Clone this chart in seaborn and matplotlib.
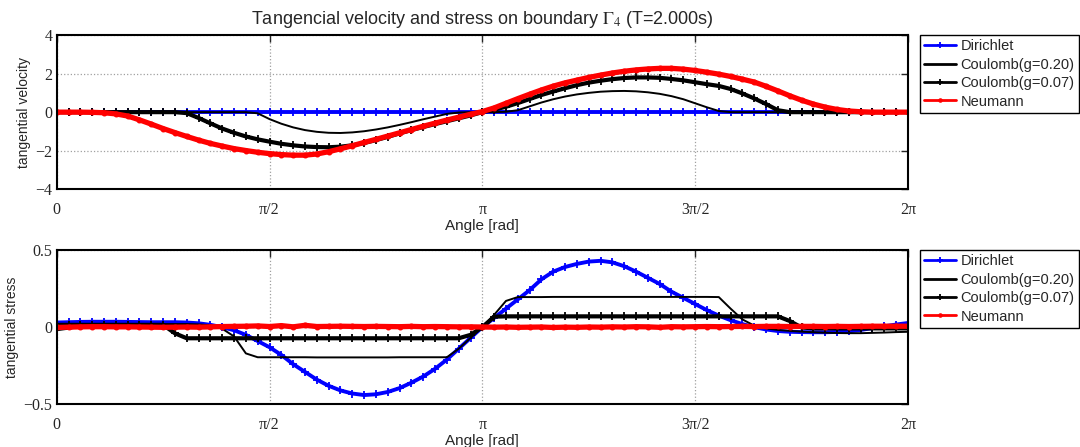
import numpy as np
import pandas as pd
import matplotlib
matplotlib.use('Agg')
import matplotlib.pyplot as plt
import seaborn as sns

# angle grid in degrees (0..360 every 5 deg)
angle_deg = np.arange(0, 361, 5)

# tangential velocity
vel_dirichlet = [
    0, 0, 0, 0, 0, 0, 0, 0, 0, 0, 0, 0, 0, 0, 0, 0, 0, 0, 0, 0, 0, 0, 0, 0, 0,
    0, 0, 0, 0, 0, 0, 0, 0, 0, 0, 0, 0, 0, 0, 0, 0, 0, 0, 0, 0, 0, 0, 0, 0, 0,
    0, 0, 0, 0, 0, 0, 0, 0, 0, 0, 0, 0, 0, 0, 0, 0, 0, 0, 0, 0, 0, 0, 0]
vel_coulomb_020 = [
    0, 0, 0, 0, 0, 0, 0, 0, 0, 0, 0, 0, 0, 0, 0, 0, 0,
    -0.06, -0.36, -0.6, -0.79, -0.93, -1.02, -1.07, -1.08, -1.05, -0.99,
    -0.9, -0.79, -0.66, -0.52, -0.37, -0.23, -0.09, -0.02, 0.0, 0.0,
    0.0, 0.02, 0.1, 0.3, 0.5, 0.67, 0.81, 0.92, 1.0, 1.06,
    1.09, 1.1, 1.08, 1.03, 0.95, 0.83, 0.67, 0.46, 0.25, 0.06,
    0, 0, 0, 0, 0, 0, 0, 0, 0, 0, 0, 0, 0, 0, 0, 0]
vel_coulomb_007 = [
    0, 0, 0, 0, 0, 0, 0, 0, 0, 0, 0,
    -0.05, -0.3, -0.58, -0.85, -1.07, -1.26, -1.41, -1.53, -1.64, -1.72,
    -1.78, -1.81, -1.82, -1.79, -1.72, -1.6, -1.45, -1.28, -1.1, -0.93,
    -0.77, -0.62, -0.47, -0.32, -0.17, 0.0, 0.13, 0.28, 0.47, 0.68,
    0.89, 1.07, 1.24, 1.4, 1.53, 1.63, 1.71, 1.77, 1.8, 1.8,
    1.78, 1.72, 1.65, 1.55, 1.45, 1.36, 1.2, 0.97, 0.71, 0.42, 0.1,
    0, 0, 0, 0, 0, 0, 0, 0, 0, 0, 0]
vel_neumann = [
    0, 0, 0, -0.01, -0.03, -0.09, -0.2, -0.4, -0.62, -0.85,
    -1.06, -1.26, -1.45, -1.62, -1.76, -1.89, -1.99, -2.08, -2.15, -2.2,
    -2.23, -2.23, -2.17, -2.05, -1.9, -1.74, -1.57, -1.41, -1.24, -1.07,
    -0.9, -0.73, -0.57, -0.41, -0.26, -0.11, 0.03, 0.22, 0.46, 0.7,
    0.93, 1.15, 1.35, 1.52, 1.66, 1.8, 1.92, 2.03, 2.12, 2.19,
    2.24, 2.27, 2.27, 2.23, 2.16, 2.07, 1.97, 1.85, 1.71, 1.56,
    1.34, 1.1, 0.85, 0.62, 0.42, 0.26, 0.14, 0.06, 0.02, 0,
    0, 0, 0]

# tangential stress
str_dirichlet = [
    0.03, 0.032, 0.034, 0.035, 0.035, 0.035, 0.034, 0.033, 0.032, 0.032,
    0.032, 0.03, 0.025, 0.015, 0.0, -0.02, -0.05, -0.09, -0.13, -0.18,
    -0.24, -0.29, -0.34, -0.38, -0.41, -0.43, -0.44, -0.435, -0.42, -0.395,
    -0.36, -0.32, -0.27, -0.21, -0.14, -0.07, 0.0, 0.06, 0.12, 0.18,
    0.24, 0.31, 0.36, 0.39, 0.41, 0.425, 0.43, 0.42, 0.395, 0.36,
    0.32, 0.28, 0.23, 0.19, 0.15, 0.11, 0.075, 0.045, 0.02, 0.0,
    -0.015, -0.025, -0.03, -0.032, -0.033, -0.033, -0.031, -0.027, -0.018, -0.006,
    0.006, 0.017, 0.027]
str_coulomb_020 = [
    -0.02, -0.01, 0.0, 0.008, 0.013, 0.016, 0.018, 0.02, 0.02, 0.02,
    0.02, 0.02, 0.018, 0.012, -0.01, -0.06, -0.17, -0.195, -0.195, -0.195,
    -0.195, -0.195, -0.196, -0.196, -0.196, -0.196, -0.196, -0.196, -0.196, -0.195,
    -0.195, -0.195, -0.195, -0.195, -0.14, -0.07, 0.0, 0.08, 0.17, 0.195,
    0.195, 0.195, 0.196, 0.196, 0.196, 0.196, 0.196, 0.196, 0.196, 0.196,
    0.196, 0.196, 0.196, 0.196, 0.196, 0.196, 0.195, 0.12, 0.05, 0.01,
    -0.008, -0.018, -0.024, -0.029, -0.033, -0.036, -0.038, -0.039, -0.039, -0.037,
    -0.035, -0.032, -0.03]
str_coulomb_007 = [
    0.015, 0.015, 0.015, 0.015, 0.015, 0.015, 0.015, 0.015, 0.015, 0.015,
    -0.04, -0.072, -0.072, -0.072, -0.072, -0.072, -0.072, -0.072, -0.072, -0.072,
    -0.072, -0.072, -0.072, -0.072, -0.072, -0.072, -0.072, -0.072, -0.072, -0.072,
    -0.072, -0.072, -0.072, -0.072, -0.072, -0.05, 0.0, 0.068, 0.07, 0.07,
    0.07, 0.07, 0.07, 0.07, 0.07, 0.07, 0.07, 0.07, 0.07, 0.07,
    0.07, 0.07, 0.07, 0.07, 0.07, 0.07, 0.07, 0.07, 0.07, 0.07,
    0.07, 0.07, 0.04, -0.002, -0.008, -0.008, -0.008, -0.008, -0.008, -0.008,
    -0.008, -0.008, -0.008]
str_neumann = [
    -0.002, 0.0, 0.002, 0.003, 0.003, 0.002, 0.002, 0.001, 0.0, -0.001,
    0.0, 0.001, 0.0, 0.002, 0.004, 0.005, 0.006, 0.008, 0.004, 0.01,
    0.002, 0.012, 0.004, 0.005, 0.006, 0.005, 0.004, 0.005, 0.004, 0.003,
    0.005, 0.003, 0.004, 0.003, 0.002, 0.002, 0.001, 0.0, 0.001, -0.001,
    0.0, 0.001, -0.002, 0.0, -0.001, 0.001, 0.0, 0.002, 0.001, 0.003,
    0.002, -0.001, 0.003, 0.002, 0.003, 0.004, 0.003, 0.004, 0.005, 0.004,
    0.005, 0.005, 0.004, 0.005, 0.005, 0.004, 0.005, 0.004, 0.005, 0.006,
    0.006, 0.006, 0.006]

labels = ['Dirichlet', 'Coulomb(g=0.20)', 'Coulomb(g=0.07)', 'Neumann']
colors = ['#0000ff', 'black', 'black', '#ff0000']
markers = ['+', '', '+', '.']
widths = [2.8, 1.4, 3.0, 3.8]

x_ticks = [0, np.pi / 2, np.pi, 3 * np.pi / 2, 2 * np.pi]
x_tick_labels = ['0', 'π/2', 'π', '3π/2', '2π']

sns.set_style('white')
plt.rcParams['font.family'] = ['Liberation Sans', 'DejaVu Sans']
plt.rcParams['mathtext.fontset'] = 'stix'

angle = np.deg2rad(angle_deg)
vel_df = pd.DataFrame(dict(zip(labels, [vel_dirichlet, vel_coulomb_020, vel_coulomb_007, vel_neumann])))
str_df = pd.DataFrame(dict(zip(labels, [str_dirichlet, str_coulomb_020, str_coulomb_007, str_neumann])))
vel_df['angle'] = angle
str_df['angle'] = angle

fig = plt.figure(figsize=(10.8, 4.47), dpi=100)
ax1 = fig.add_axes([0.0525, 0.5765, 0.7882, 0.3452])
ax2 = fig.add_axes([0.0525, 0.0955, 0.7882, 0.3452])


def draw(ax, df, ylabel, ylim, yticks, ytick_labels):
    for lab, c, m, w in zip(labels, colors, markers, widths):
        sns.lineplot(data=df, x='angle', y=lab, ax=ax, color=c, lw=w,
                     marker=m if m else None, markersize=6, markeredgewidth=1.3,
                     markeredgecolor=c, label=lab)
    ax.set_xlim(0, 2 * np.pi)
    ax.set_ylim(*ylim)
    ax.set_xticks(x_ticks)
    ax.set_xticklabels(x_tick_labels, family='Liberation Serif', fontsize=11.5)
    ax.set_yticks(yticks)
    ax.set_yticklabels(ytick_labels, family='Liberation Serif', fontsize=11.5)
    ax.grid(True, linestyle=':', color='#a0a0a0', linewidth=0.9)
    ax.tick_params(direction='in', length=5, width=1, top=True, right=True)
    ax.tick_params(axis='x', pad=9)
    ax.tick_params(axis='y', pad=3)
    for s in ax.spines.values():
        s.set_linewidth(1.5)
        s.set_color('black')
    ax.set_xlabel('Angle [rad]', fontsize=11)
    ax.xaxis.set_label_coords(0.5, -0.19)
    ax.set_ylabel(ylabel, fontsize=10, labelpad=3)
    leg = ax.legend(loc='upper left', bbox_to_anchor=(1.014, 1.0), borderaxespad=0,
                    fontsize=10.5, frameon=True, fancybox=False, framealpha=1,
                    edgecolor='black', handlelength=2.2, handletextpad=0.3,
                    labelspacing=0.3, borderpad=0.3)
    leg.get_frame().set_linewidth(1.0)
    for h in leg.get_lines():
        h.set_linewidth(2.0)
        h.set_markersize(4)


draw(ax1, vel_df, 'tangential velocity', (-4, 4), [-4, -2, 0, 2, 4],
     ['−4', '−2', '0', '2', '4'])
draw(ax2, str_df, 'tangential stress', (-0.5, 0.5), [-0.5, 0, 0.5],
     ['−0.5', '0', '0.5'])

ax1.set_title(r'Tangencial velocity and stress on boundary $\Gamma_4$ (T=2.000s)',
              fontsize=13, pad=8)

fig.savefig('out.png', dpi=100)
